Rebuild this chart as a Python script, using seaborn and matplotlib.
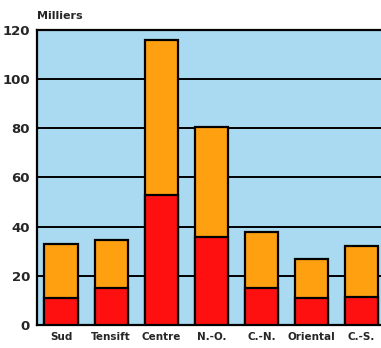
import matplotlib
matplotlib.use("Agg")
import matplotlib.pyplot as plt
import seaborn as sns
import pandas as pd

categories = ["Sud", "Tensift", "Centre", "N.-O.", "C.-N.", "Oriental", "C.-S."]
red_values = [11, 15, 53, 36, 15, 11, 11.5]
total_values = [33, 34.5, 116, 80.5, 38, 27, 32]
yticks = [0, 20, 40, 60, 80, 100, 120]

df = pd.DataFrame({"region": categories, "red": red_values, "total": total_values})

sns.set_style("white")
plt.rcParams['font.family'] = ['DejaVu Sans']

fig = plt.figure(figsize=(3.81, 3.48), dpi=100)
ax = fig.add_axes([0.097, 0.066, 0.91, 0.848])
ax.set_facecolor("#a9daf2")

for y in yticks[1:]:
    ax.axhline(y, color="black", lw=1.4, zorder=1)

sns.barplot(data=df, x="region", y="total", color="#ffa010", edgecolor="black",
            linewidth=1.6, width=0.66, saturation=1, ax=ax, zorder=2)
sns.barplot(data=df, x="region", y="red", color="#ff1010", edgecolor="black",
            linewidth=1.6, width=0.66, saturation=1, ax=ax, zorder=3)

ax.set_xlim(-0.48, 6.44)
ax.set_ylim(0, 120)
ax.set_yticks(yticks)
ax.set_yticklabels([str(v) for v in yticks], fontsize=9.5, fontweight="bold")
ax.set_xticks(range(len(categories)))
ax.set_xticklabels(categories, fontsize=7.5, fontweight="bold")
ax.tick_params(axis="both", length=0, pad=5)
ax.set_xlabel("")
ax.set_ylabel("")
for s in ["left", "bottom", "top"]:
    ax.spines[s].set_color("black")
    ax.spines[s].set_linewidth(1.6)
ax.spines["right"].set_visible(False)

fig.text(0.097, 0.955, "Milliers", fontsize=8, fontweight="bold", ha="left", va="center")

fig.savefig("out.png", dpi=100)
